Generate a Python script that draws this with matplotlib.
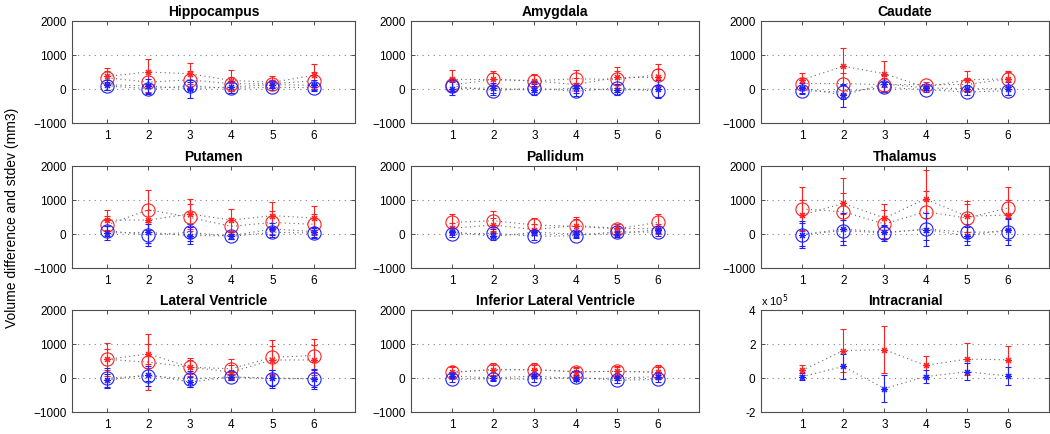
"""
Volume difference and stdev per structure, 3x3 panel of error-bar plots.
"""

import matplotlib

matplotlib.use("Agg")
import matplotlib.pyplot as plt
from matplotlib.ticker import FuncFormatter

plt.rcParams["font.family"] = ["Liberation Sans", "DejaVu Sans"]

x = [1, 2, 3, 4, 5, 6]

titles = [
    "Hippocampus", "Amygdala", "Caudate",
    "Putamen", "Pallidum", "Thalamus",
    "Lateral Ventricle", "Inferior Lateral Ventricle", "Intracranial",
]

# red circle / red star / blue circle / blue star means and stdevs
red_circle = [
    [330, 200, 270, 155, 155, 240],
    [120, 280, 240, 300, 280, 420],
    [160, 160, 130, 130, 130, 300],
    [265, 715, 490, 225, 340, 285],
    [340, 390, 265, 225, 150, 340],
    [735, 655, 295, 655, 470, 765],
    [550, 465, 320, 270, 610, 660],
    [165, 245, 245, 185, 195, 175],
    None,
]
red_circle_err = [
    [200, 300, 250, 200, 120, 250],
    [200, 200, 180, 260, 250, 320],
    [150, 300, 200, 80, 200, 200],
    [250, 585, 400, 250, 350, 300],
    [250, 300, 195, 265, 150, 250],
    [635, 985, 400, 600, 400, 625],
    [480, 825, 260, 275, 510, 490],
    [185, 200, 200, 150, 155, 195],
    None,
]
red_star = [
    [370, 500, 450, 250, 200, 400],
    [280, 280, 240, 130, 340, 340],
    [270, 670, 450, 50, 270, 300],
    [410, 410, 590, 410, 540, 470],
    [170, 265, 130, 245, 170, 150],
    [560, 900, 470, 1030, 520, 560],
    [550, 710, 320, 175, 530, 530],
    [175, 245, 245, 185, 195, 175],
    [45000, 161000, 167000, 74000, 111000, 107000],
]
red_star_err = [
    [250, 380, 310, 310, 180, 330],
    [280, 260, 210, 200, 300, 250],
    [210, 550, 380, 80, 260, 240],
    [300, 300, 440, 320, 410, 360],
    [150, 200, 150, 200, 120, 150],
    [440, 320, 400, 860, 460, 440],
    [300, 300, 200, 200, 400, 430],
    [150, 150, 150, 120, 120, 150],
    [29000, 126000, 136000, 58000, 93000, 83000],
]
blue_circle = [
    [90, 10, 90, 20, 50, 40],
    [90, -50, 30, -70, 30, -70],
    [-50, -90, 50, -20, -90, -50],
    [100, -30, 50, -70, 50, 30],
    [0, 20, -70, -50, 70, 50],
    [-20, 100, 30, 150, 50, 70],
    [0, 60, -20, 30, -20, -20],
    [-40, -20, -40, 20, -70, -40],
    None,
]
blue_circle_err = [
    [120, 150, 120, 150, 80, 100],
    [150, 130, 120, 150, 120, 200],
    [100, 200, 150, 60, 80, 120],
    [150, 330, 250, 80, 150, 150],
    [100, 120, 100, 80, 80, 100],
    [340, 300, 230, 330, 250, 390],
    [280, 290, 240, 100, 260, 290],
    [80, 80, 80, 80, 80, 80],
    None,
]
blue_star = [
    [125, 90, 10, 60, 130, 110],
    [10, 30, -40, 30, -40, 10],
    [30, -180, 150, 30, 10, 10],
    [30, 50, -50, -50, 150, 70],
    [70, -70, 50, 0, 0, 130],
    [-20, 150, 50, 130, -50, 130],
    [-70, 100, -120, 30, 0, -20],
    [60, 0, 60, -20, 0, 40],
    [8000, 68000, -62000, 8000, 37000, 12000],
]
blue_star_err = [
    [150, 200, 260, 180, 100, 150],
    [200, 150, 140, 150, 150, 250],
    [150, 340, 250, 60, 100, 190],
    [200, 300, 250, 100, 180, 150],
    [100, 100, 80, 80, 80, 100],
    [390, 460, 200, 490, 260, 300],
    [200, 200, 140, 80, 240, 250],
    [60, 60, 60, 60, 60, 60],
    [22000, 72000, 78000, 39000, 51000, 51000],
]

col_left = [72, 411, 761]
col_width = [283, 288, 288]
row_top = [22, 167, 311]
row_height = 102
fig_w, fig_h = 1050, 435

fig = plt.figure(figsize=(10.5, 4.35), dpi=100)

asterisk = (8, 2, 0)
line_color = "0.4"
red = "#ff2020"
blue = "#2020ff"


def draw_series(ax, means, errs, color, marker, size):
    if means is None:
        return
    ax.errorbar(
        x, means, yerr=errs,
        color=color, ecolor=color, elinewidth=0.8,
        capsize=2.5, capthick=0.8,
        linestyle="none", marker=marker, markersize=size,
        markerfacecolor="none", markeredgecolor=color, markeredgewidth=0.8,
        zorder=3,
    )
    ax.plot(x, means, linestyle=(0, (1, 3)), color=line_color,
            linewidth=0.8, zorder=2)


for i, title in enumerate(titles):
    r, c = divmod(i, 3)
    left = col_left[c] / fig_w
    bottom = 1 - (row_top[r] + row_height) / fig_h
    ax = fig.add_axes([left, bottom, col_width[c] / fig_w, row_height / fig_h])

    draw_series(ax, red_circle[i], red_circle_err[i], red, "o", 9.5)
    draw_series(ax, red_star[i], red_star_err[i], red, asterisk, 5)
    draw_series(ax, blue_circle[i], blue_circle_err[i], blue, "o", 9.5)
    draw_series(ax, blue_star[i], blue_star_err[i], blue, asterisk, 5)

    if title == "Intracranial":
        yticks = [-200000, 0, 200000, 400000]
        ax.yaxis.set_major_formatter(FuncFormatter(lambda v, p: f"{v / 1e5:.0f}"))
        ax.text(0.0, 1.02, "x 10$^5$", transform=ax.transAxes,
                fontsize=8, ha="left", va="bottom")
    else:
        yticks = [-1000, 0, 1000, 2000]
    ax.set_yticks(yticks)
    ax.set_ylim(yticks[0], yticks[-1])
    ax.set_xlim(0.15 if c == 0 else 0, 7)
    ax.set_xticks(x)

    for yv in yticks[1:-1]:
        ax.axhline(yv, color="0.5", linestyle=(0, (1, 4)), linewidth=0.8, zorder=1)

    ax.tick_params(direction="in", top=True, right=True, length=3,
                   labelsize=8.5, width=0.7, color="0.3", pad=4)
    for spine in ax.spines.values():
        spine.set_color("0.3")
        spine.set_linewidth(0.8)
    ax.set_title(title, fontsize=10, fontweight="bold", pad=4)

fig.text(0.011, 0.5, "Volume difference and stdev (mm3)", rotation=90,
         fontsize=10, ha="center", va="center")

fig.savefig("out.png", dpi=100)
